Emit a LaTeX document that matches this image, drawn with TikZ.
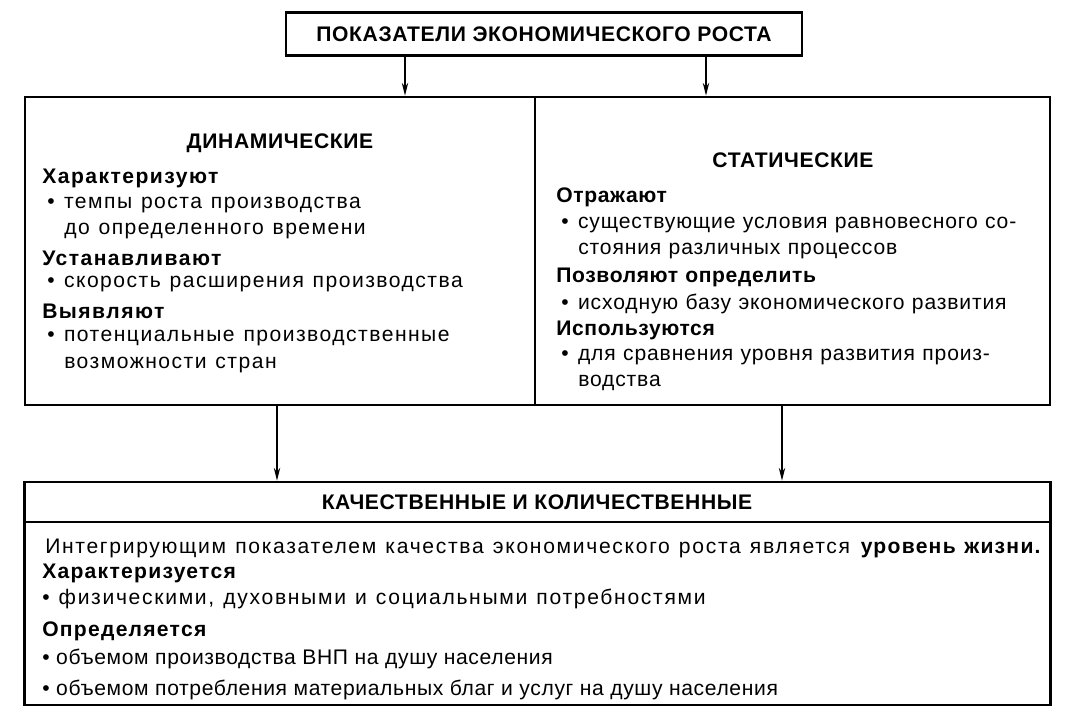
\documentclass[tikz,border=0pt]{standalone}
\usepackage{fontspec}
\setmainfont{Liberation Sans}[LetterSpace=3]
\newfontfamily\leftfont{Liberation Sans}[LetterSpace=7, WordSpace=1.2]
\newfontfamily\rightfont{Liberation Sans}[LetterSpace=4, WordSpace=1.1, BoldFeatures={LetterSpace=3}]
\newfontfamily\botfont{Liberation Sans}[LetterSpace=8, WordSpace=1.2, BoldFeatures={LetterSpace=6}]
\newfontfamily\tightfont{Liberation Sans}[LetterSpace=3]
\usetikzlibrary{arrows.meta, positioning}
\newcommand{\bul}{\makebox[0.42cm][l]{\textbullet}}
\tikzset{
  frame/.style = {draw, line width=2pt, inner sep=0pt},
  conn/.style  = {-{Stealth[length=3.2mm, width=1.6mm]}, line width=0.9pt},
  ttl/.style   = {font=\fontsize{15}{17}\selectfont\bfseries},
  ltxt/.style  = {anchor=west, inner sep=0pt, font=\fontsize{15}{17}\selectfont\leftfont},
  rtxt/.style  = {anchor=west, inner sep=0pt, font=\fontsize{15}{17}\selectfont\rightfont},
  btxt/.style  = {anchor=west, inner sep=0pt, font=\fontsize{15}{17}\selectfont\botfont},
}

\begin{document}
\begin{tikzpicture}[x=0.025cm, y=-0.025cm]
  \useasboundingbox (0,0) rectangle (1075,726);
  % top
  \node[frame, ttl, minimum width=12.9cm, minimum height=1.075cm] (top) at (544,34)
    {ПОКАЗАТЕЛИ ЭКОНОМИЧЕСКОГО РОСТА};
  % middle: two halves
  \node[frame, minimum width=12.75cm, minimum height=7.7cm] (dyn) at (280,251) {};
  \node[frame, minimum width=12.875cm, minimum height=7.7cm] (stat) at (792.5,251) {};
  \node[ttl] (dynT) at (280,143) {ДИНАМИЧЕСКИЕ};
  \node[ttl] (statT) at (793,160) {СТАТИЧЕСКИЕ};
  \foreach \x/\y/\t [count=\i] in {
      42/178/{\textbf{Характеризуют}},
      47/205/{\bul темпы роста производства},
      64/231/{до определенного времени},
      42/258/{\textbf{Устанавливают}},
      47/284/{\bul скорость расширения производства},
      42/311/{\textbf{Выявляют}},
      47/338/{\bul потенциальные производственные},
      64/365/{возможности стран}}
    \node[ltxt] (dl\i) at (\x,\y) {\t};
  \foreach \x/\y/\t [count=\i] in {
      556/197/{\textbf{Отражают}},
      561/225/{\bul существующие условия равновесного со-},
      578/251/{стояния различных процессов},
      556/277/{\textbf{Позволяют определить}},
      561/304/{\bul исходную базу экономического развития},
      556/330/{\textbf{Используются}},
      561/357/{\bul для сравнения уровня развития произ-},
      578/383/{водства}}
    \node[rtxt] (sl\i) at (\x,\y) {\t};
  % bottom
  \node[frame, minimum width=25.625cm, minimum height=5.575cm] (bot) at (537.5,593.5) {};
  \draw[line width=2pt] (bot.west |- 0,522) -- (bot.east |- 0,522);
  \node[ttl] (botT) at (537,502) {КАЧЕСТВЕННЫЕ И КОЛИЧЕСТВЕННЫЕ};
  \foreach \x/\y/\t [count=\i] in {
      45/548/{Интегрирующим показателем качества экономического роста является \textbf{уровень жизни.}},
      42/573/{\textbf{Характеризуется}},
      42/599/{\textbullet\ физическими, духовными и социальными потребностями},
      42/631/{\textbf{Определяется}},
      42/659/{\tightfont\textbullet\ объемом производства ВНП на душу населения},
      42/690/{\tightfont\textbullet\ объемом потребления материальных благ и услуг на душу населения}}
    \node[btxt] (bl\i) at (\x,\y) {\t};
  % arrows
  \draw[conn] (top.south -| 405,0) -- (405,0 |- dyn.north);
  \draw[conn] (top.south -| 706,0) -- (706,0 |- stat.north);
  \draw[conn] (dyn.south -| 277,0) -- (277,0 |- bot.north);
  \draw[conn] (stat.south -| 782,0) -- (782,0 |- bot.north);
\end{tikzpicture}
\end{document}
